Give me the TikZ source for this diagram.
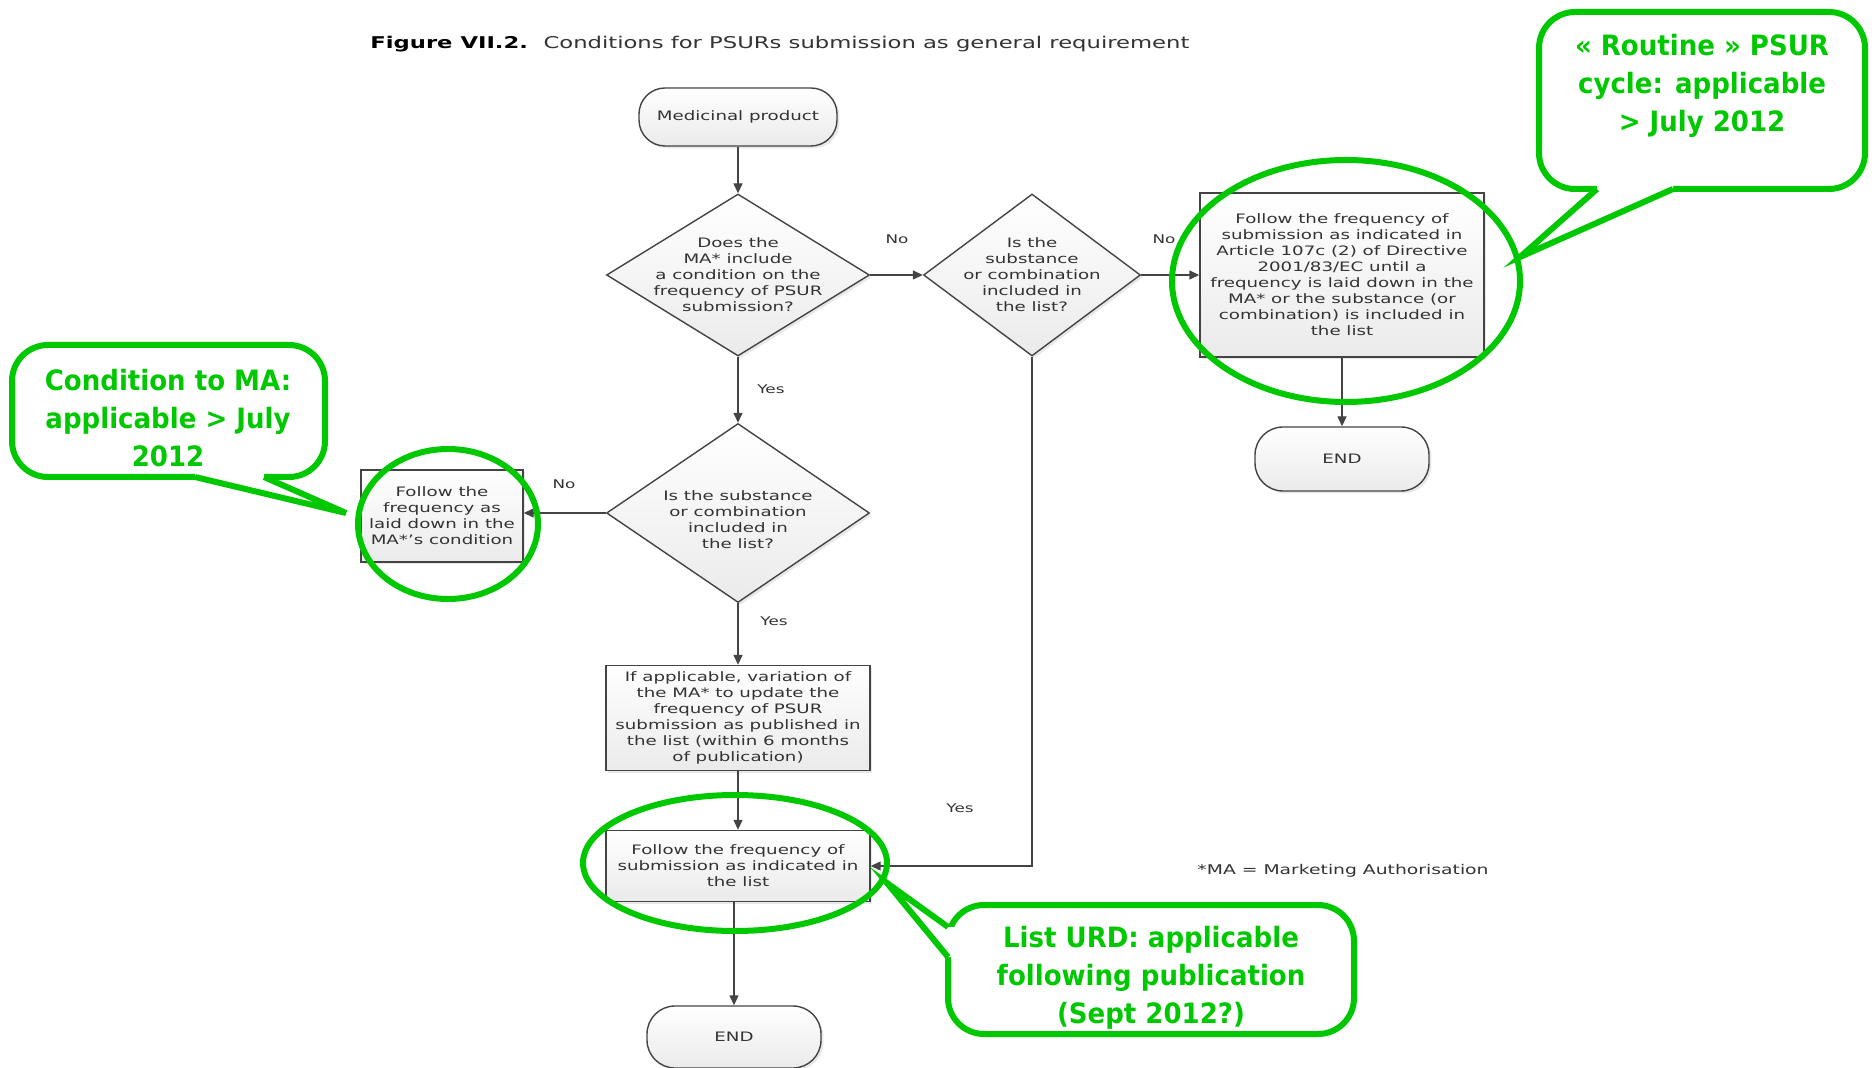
\documentclass[tikz,border=0pt]{standalone}
\usepackage{fontspec}
\usetikzlibrary{shapes.geometric,arrows.meta,shadows}
\newfontfamily\flowfont[FakeStretch=1.4]{DejaVu Sans}
\newfontfamily\greenfont[FakeStretch=0.93]{DejaVu Sans}
\definecolor{lineg}{HTML}{444444}
\definecolor{textg}{HTML}{333333}
\definecolor{callg}{RGB}{0,200,0}
\tikzset{
  shapebase/.style={draw=lineg, line width=0.7pt, top color=white, bottom color=gray!16,
    drop shadow={shadow xshift=1.2pt, shadow yshift=-1.2pt, opacity=0.18}},
  flowtext/.style={font=\flowfont\fontsize{6.5pt}{8pt}\selectfont, text=textg, align=center},
  diam/.style={shapebase, diamond, inner sep=0pt},
  boxst/.style={shapebase, rectangle, inner sep=0pt, flowtext},
  termst/.style={shapebase, rectangle, rounded corners=13pt, inner sep=0pt, flowtext},
  lbl/.style={font=\flowfont\fontsize{6pt}{7pt}\selectfont, text=textg},
  arr/.style={draw=lineg, line width=0.7pt, -{Triangle[length=5pt,width=4.5pt]}},
  gline/.style={draw=callg, line width=3pt},
  greentext/.style={font=\greenfont\bfseries\fontsize{14pt}{19pt}\selectfont, text=callg, align=center},
}
\begin{document}
\begin{tikzpicture}[x=0.5pt,y=-0.5pt]
\useasboundingbox (0,0) rectangle (1872,1068);
\fill[white] (0,0) rectangle (1872,1068);

% title
\node[anchor=west, inner sep=0pt, font=\flowfont\fontsize{8.1pt}{9.5pt}\selectfont, text=textg] (title) at (370,44)
  {\textcolor{black}{\bfseries Figure VII.2.}\hspace{3pt} Conditions for PSURs submission as general requirement};

% flowchart nodes
\node[termst, minimum width=99pt, minimum height=29pt] (n1) at (738,117) {Medicinal product};
\node[diam, minimum width=131.5pt, minimum height=81pt] (d1) at (738,275) {};
\node[flowtext] (d1t) at (d1) {Does the\\MA* include\\a condition on the\\frequency of PSUR\\submission?};
\node[diam, minimum width=108.5pt, minimum height=81pt] (d2) at (1032,275) {};
\node[flowtext] (d2t) at (d2) {Is the\\substance\\or combination\\included in\\the list?};
\node[boxst, minimum width=142pt, minimum height=82pt] (b1) at (1342,275)
  {Follow the frequency of\\submission as indicated in\\Article 107c (2) of Directive\\2001/83/EC until a\\frequency is laid down in the\\MA* or the substance (or\\combination) is included in\\the list};
\node[termst, minimum width=87pt, minimum height=32pt, rounded corners=14pt] (e1) at (1342,459) {END};
\node[diam, minimum width=131.5pt, minimum height=89.5pt] (d3) at (738,513) {};
\node[flowtext] (d3t) at ([yshift=-3.5pt]d3.center) {Is the substance\\or combination\\included in\\the list?};
\node[boxst, minimum width=81pt, minimum height=46pt] (b2) at (442,516)
  {Follow the\\frequency as\\laid down in the\\MA*’s condition};
\node[boxst, minimum width=132pt, minimum height=52.5pt] (b3) at (738,718)
  {If applicable, variation of\\the MA* to update the\\frequency of PSUR\\submission as published in\\the list (within 6 months\\of publication)};
\node[boxst, minimum width=132pt, minimum height=35.5pt] (b4) at (738,866)
  {Follow the frequency of\\submission as indicated in\\the list};
\node[termst, minimum width=87pt, minimum height=31pt, rounded corners=14pt] (e2) at (734,1037) {END};

% labels
\node[lbl] (no1) at (897,239) {No};
\node[lbl] (no2) at (1164,239) {No};
\node[lbl] (yes1) at (771,389) {Yes};
\node[lbl] (no3) at (564,484) {No};
\node[lbl] (yes2) at (774,621) {Yes};
\node[lbl] (yes3) at (960,808) {Yes};
\node[font=\flowfont\fontsize{6.7pt}{8pt}\selectfont, text=textg] (fn) at (1343,871) {*MA = Marketing Authorisation};

% connectors
\draw[arr] (n1) -- (d1);
\draw[arr] (d1) -- (d2);
\draw[arr] (d2) -- (b1);
\draw[arr] (b1) -- (e1);
\draw[arr] (d1) -- (d3);
\draw[arr] (d3.west) -- (d3.west -| b2.east);
\draw[arr] (d3) -- (b3);
\draw[arr] (b3) -- (b4);
\draw[arr] (d2.south) |- (b4.east);
\draw[arr] (e2.north |- b4.south) -- (e2.north);

% green ellipses
\draw[gline] (1346,281) ellipse [x radius=87pt, y radius=60.5pt];
\draw[gline] (448,524) ellipse [x radius=45pt, y radius=37.5pt];
\draw[gline] (735,863) ellipse [x radius=76pt, y radius=34pt];

% callout top right
\draw[gline, fill=white, rounded corners=18pt] (1539,12) rectangle (1865,189);
\fill[white] (1597,183) -- (1597,189) -- (1520,257) -- (1673,189) -- (1673,183) -- cycle;
\draw[gline, line join=miter] (1597,189) -- (1520,257) -- (1673,189);
\node[greentext] (c1t) at (1702,86) {« Routine » PSUR\\cycle: applicable\\> July 2012};

% callout left
\draw[gline, fill=white, rounded corners=18pt] (12,345) rectangle (325,477);
\fill[white] (195,471) -- (195,477) -- (346,513) -- (264,477) -- (264,471) -- cycle;
\draw[gline, line join=miter] (195,477) -- (346,513) -- (264,477);
\node[greentext] (c2t) at (168,418) {Condition to MA:\\applicable > July\\2012};

% callout bottom
\draw[gline, fill=white, rounded corners=18pt] (948,905) rectangle (1354,1034);
\fill[white] (954,927) -- (948,927) -- (887,883) -- (948,957) -- (954,957) -- cycle;
\draw[gline, line join=miter] (948,927) -- (887,883) -- (948,957);
\node[greentext] (c3t) at (1151,978) {List URD: applicable\\following publication\\(Sept 2012?)};
\end{tikzpicture}
\end{document}
